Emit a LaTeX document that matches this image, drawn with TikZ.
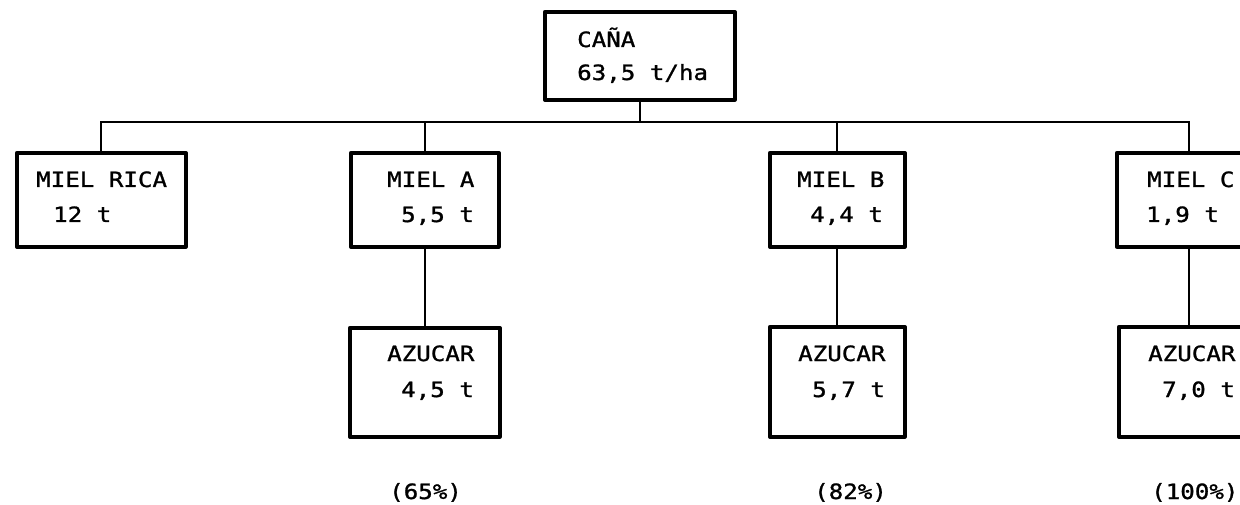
\documentclass[tikz,border=0pt]{standalone}
\usepackage{fontspec}
\newfontfamily\monofont[FakeStretch=1.15,FakeBold=1.2]{DejaVu Sans Mono}
\begin{document}
\begin{tikzpicture}[x=1pt,y=-1pt,
  box/.style={draw, line width=3.6pt, rectangle, anchor=north west, inner sep=0pt, line join=round},
  conn/.style={line width=1.8pt},
  txt/.style={anchor=base west, inner sep=0pt, font=\monofont\fontsize{21}{21}\selectfont}]
\clip (0,0) rectangle (1240,505);
\fill[white] (0,0) rectangle (1240,505);
% boxes
\node[box, minimum width=190pt, minimum height=88pt] (cana) at (543,10) {};
\node[box, minimum width=169pt, minimum height=94pt] (rica) at (15,151) {};
\node[box, minimum width=148pt, minimum height=94pt] (miela) at (349,151) {};
\node[box, minimum width=135pt, minimum height=94pt] (mielb) at (768,151) {};
\node[box, minimum width=144pt, minimum height=94pt] (mielc) at (1115,151) {};
\node[box, minimum width=150pt, minimum height=109pt] (azua) at (348,326) {};
\node[box, minimum width=135pt, minimum height=110pt] (azub) at (768,325) {};
\node[box, minimum width=144pt, minimum height=110pt] (azuc) at (1117,325) {};
% connectors
\coordinate (bus) at (0,122);
\draw[conn] (cana.south) -- (cana.south |- bus);
\draw[conn] (rica.north) -- (rica.north |- bus) -- (mielc.north |- bus) -- (mielc.north);
\draw[conn] (miela.north) -- (miela.north |- bus);
\draw[conn] (mielb.north) -- (mielb.north |- bus);
\draw[conn] (miela.south) -- (miela.south |- azua.north);
\draw[conn] (mielb.south) -- (mielb.south |- azub.north);
\draw[conn] (mielc.south) -- (mielc.south |- azuc.north);
% texts
\node[txt] (t1) at (577,47) {CAÑA};
\node[txt] (t2) at (577,80) {63,5 t/ha};
\node[txt] (t3) at (36,187) {MIEL RICA};
\node[txt] (t4) at (53,222) {12 t};
\node[txt] (t5) at (387,187) {MIEL A};
\node[txt] (t6) at (401,222) {5,5 t};
\node[txt] (t7) at (797,187) {MIEL B};
\node[txt] (t8) at (810,222) {4,4 t};
\node[txt] (t9) at (1147,187) {MIEL C};
\node[txt] (t10) at (1146,222) {1,9 t};
\node[txt] (t11) at (387,361) {AZUCAR};
\node[txt] (t12) at (401,397) {4,5 t};
\node[txt] (t13) at (798,361) {AZUCAR};
\node[txt] (t14) at (812,397) {5,7 t};
\node[txt] (t15) at (1148,361) {AZUCAR};
\node[txt] (t16) at (1162,397) {7,0 t};
\node[txt] (p1) at (389,499) {(65\%)};
\node[txt] (p2) at (814,499) {(82\%)};
\node[txt] (p3) at (1151,499) {(100\%)};
\end{tikzpicture}
\end{document}
